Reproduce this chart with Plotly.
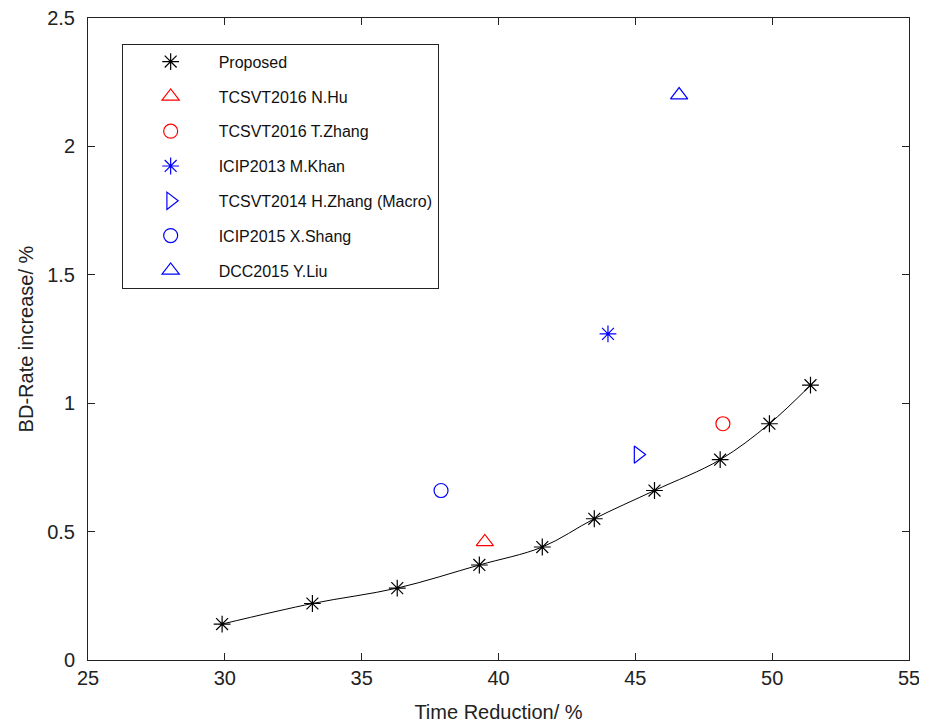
import plotly.graph_objects as go

# Proposed method
prop_x = [29.9, 33.2, 36.3, 39.3, 41.6, 43.5, 45.7, 48.1, 49.9, 51.4]
prop_y = [0.14, 0.22, 0.28, 0.37, 0.44, 0.55, 0.66, 0.78, 0.92, 1.07]

# Comparison methods
names = ["TCSVT2016 N.Hu", "TCSVT2016 T.Zhang", "ICIP2013 M.Khan",
         "TCSVT2014 H.Zhang (Macro)", "ICIP2015 X.Shang", "DCC2015 Y.Liu"]
comp_x = [39.5, 48.2, 44.0, 45.1, 37.9, 46.6]
comp_y = [0.46, 0.92, 1.27, 0.80, 0.66, 2.20]
symbols = ["triangle-up-open", "circle-open", "asterisk-open",
           "triangle-right-open", "circle-open", "triangle-up-open"]
colors = ["#ff0000", "#ff0000", "#0000ff", "#0000ff", "#0000ff", "#0000ff"]
sizes = [15, 14, 14, 15, 14, 15]

x_ticks = [25, 30, 35, 40, 45, 50, 55]
y_ticks = [0, 0.5, 1, 1.5, 2, 2.5]

fig = go.Figure()
# smooth curve through the proposed points (no legend entry)
fig.add_trace(go.Scatter(
    x=prop_x, y=prop_y, mode="lines", showlegend=False,
    line=dict(color="black", width=1, shape="spline"), hoverinfo="skip"))
fig.add_trace(go.Scatter(
    x=prop_x, y=prop_y, mode="markers", name="Proposed",
    marker=dict(symbol="asterisk-open", size=14, color="black",
                line=dict(color="black", width=1.2)),
    legendgroup="g0"))
for i, n in enumerate(names):
    fig.add_trace(go.Scatter(
        x=[comp_x[i]], y=[comp_y[i]], mode="markers", name=n,
        marker=dict(symbol=symbols[i], size=sizes[i], color=colors[i],
                    line=dict(color=colors[i], width=1.2)),
        legendgroup="g%d" % (i + 1)))

axis_font = dict(family="Liberation Sans, Arial, sans-serif", size=20, color="#222")
common = dict(showline=True, linecolor="#222", linewidth=1, mirror="ticks",
              ticks="inside", ticklen=7, tickcolor="#222", showgrid=False,
              zeroline=False, tickfont=axis_font, automargin=False,
              ticklabeloverflow="allow")

fig.update_xaxes(range=[25, 55], tickvals=x_ticks,
                 ticktext=[str(v) for v in x_ticks],
                 title=dict(text="Time Reduction/ %", font=axis_font, standoff=16),
                 **common)
fig.update_yaxes(range=[0, 2.5], tickvals=y_ticks,
                 ticktext=["0", "0.5", "1", "1.5", "2", "2.5"],
                 ticklabelstandoff=8,
                 title=dict(text="BD-Rate increase/ %", font=axis_font, standoff=8),
                 **common)

fig.update_layout(
    width=927, height=725,
    margin=dict(l=80, r=26, t=10, b=73),
    paper_bgcolor="white", plot_bgcolor="white",
    legend=dict(x=0.041, y=0.960, xanchor="left", yanchor="top",
                bordercolor="#222", borderwidth=1, bgcolor="white",
                font=dict(family="Liberation Sans, Arial, sans-serif", size=16, color="#111"),
                tracegroupgap=11, itemwidth=86),
    showlegend=True,
)

fig.write_html("out.html")
